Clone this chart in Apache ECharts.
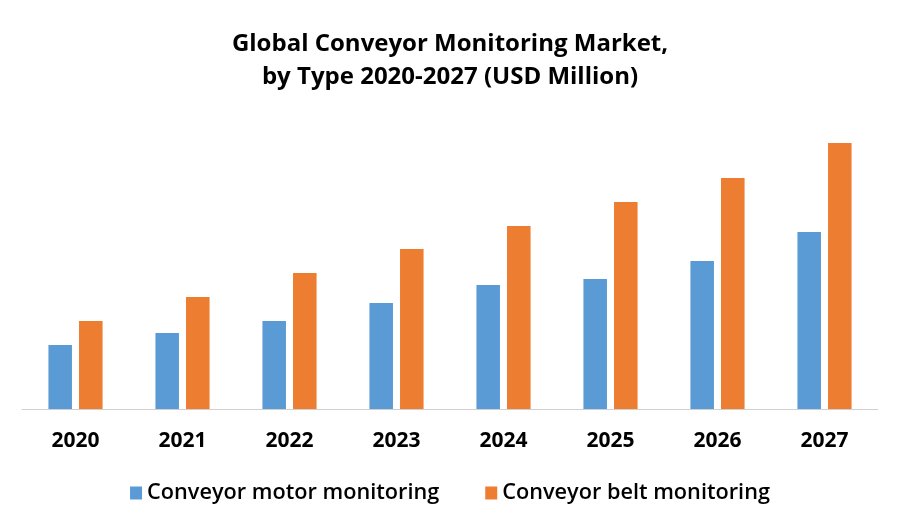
<!DOCTYPE html>
<html>
<head>
<meta charset="utf-8">
<script src="https://cdn.jsdelivr.net/npm/echarts@6/dist/echarts.min.js"></script>
<style>
html,body{margin:0;padding:0;background:#fff;}
#chart{width:900px;height:525px;}
</style>
</head>
<body>
<div id="chart"></div>
<script>
const categories = ['2020','2021','2022','2023','2024','2025','2026','2027'];
const motorMonitoring = [64, 76, 88, 106, 124, 130, 148, 177];
const beltMonitoring = [88, 112, 136, 160, 183, 207, 231, 266];
const seriesNames = ['Conveyor motor monitoring', 'Conveyor belt monitoring'];

const FONT = '"Open Sans", Lato, sans-serif';
const chart = echarts.init(document.getElementById('chart'), null, {renderer: 'canvas'});
chart.setOption({
  backgroundColor: '#ffffff',
  animation: false,
  title: {
    text: 'Global Conveyor Monitoring Market,\nby Type 2020-2027 (USD Million)',
    left: 'center',
    top: 23,
    textStyle: {fontFamily: FONT, fontWeight: 'bold', fontSize: 24, lineHeight: 33, color: '#000'}
  },
  legend: {
    bottom: 16,
    left: 'center',
    itemWidth: 12,
    itemHeight: 13,
    itemGap: 46,
    itemTextGap: 7,
    icon: 'rect',
    textStyle: {fontFamily: FONT, fontSize: 21.7, fontWeight: 600, color: '#000'},
    data: seriesNames
  },
  grid: {left: 22, right: 22, top: 130, bottom: 116, containLabel: false},
  xAxis: {
    type: 'category',
    data: categories,
    axisLine: {lineStyle: {color: '#d0d0d0', width: 1}},
    axisTick: {show: false},
    axisLabel: {fontFamily: FONT, fontWeight: 'bold', fontSize: 21, color: '#000', margin: 22}
  },
  yAxis: {
    type: 'value',
    min: 0,
    max: 279,
    show: false,
    splitLine: {show: false}
  },
  series: [
    {name: seriesNames[0], type: 'bar', data: motorMonitoring, barWidth: '22%', barGap: '30%', itemStyle: {color: '#5b9bd5'}},
    {name: seriesNames[1], type: 'bar', data: beltMonitoring, barWidth: '22%', barGap: '30%', itemStyle: {color: '#ed7d31'}}
  ]
});
</script>
</body>
</html>
